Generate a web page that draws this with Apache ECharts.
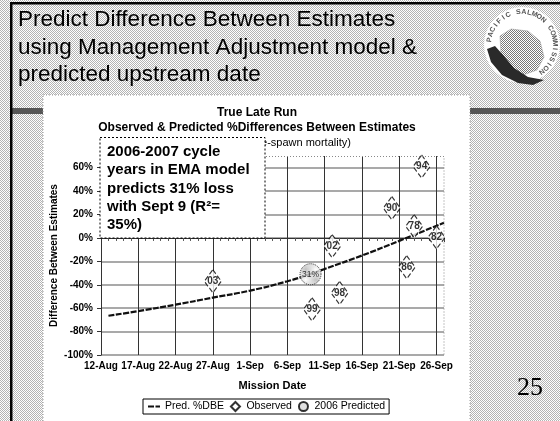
<!DOCTYPE html>
<html>
<head>
<meta charset="utf-8">
<script src="https://cdn.jsdelivr.net/npm/echarts@6/dist/echarts.min.js"></script>
<style>
  html, body { margin: 0; padding: 0; background: #fff; }
  #main { width: 560px; height: 421px; }
</style>
</head>
<body>
<div id="main"></div>
<script>
// x axis: days counted from 12-Aug, one label every 5 days
var xTickLabels = ["12-Aug", "17-Aug", "22-Aug", "27-Aug", "1-Sep", "6-Sep", "11-Sep", "16-Sep", "21-Sep", "26-Sep"];

// observed points (year code, day, %DBE)
var obsYears = ["03", "99", "02", "98", "90", "86", "78", "94", "82"];
var obsDay = [15, 28.3, 31, 32, 39, 41, 42, 43, 45];
var obsDbe = [-37, -61, -7, -47, 25.5, -25, 10, 61, 0.5];

// 2006 predicted point
var predLabels = ["31%"];
var predDay = [28.1];
var predDbe = [-31];

// fitted curve
var trendDay = [1, 5, 10, 15, 20, 25, 28, 30, 35, 40, 46];
var trendDbe = [-66.5, -62.5, -57, -51, -45, -37, -31, -26.5, -15, -2.5, 13];

var FONT = '"Liberation Sans", Arial, sans-serif';

// stipple pattern for the slide background
var pat = document.createElement("canvas");
pat.width = 2; pat.height = 2;
var pc = pat.getContext("2d");
pc.fillStyle = "#fff"; pc.fillRect(0, 0, 2, 2);
pc.fillStyle = "#b4b4b4"; pc.fillRect(0, 0, 1, 1); pc.fillRect(1, 1, 1, 1);

// darker pattern for the map in the logo
var pat2 = document.createElement("canvas");
pat2.width = 2; pat2.height = 2;
var pc2 = pat2.getContext("2d");
pc2.fillStyle = "#fff"; pc2.fillRect(0, 0, 2, 2);
pc2.fillStyle = "#777"; pc2.fillRect(0, 0, 1, 1); pc2.fillRect(1, 1, 1, 1);

// logo ring lettering
var logoText = "PACIFIC SALMON COMMISSION";
var logoEls = [
  {type: "circle", shape: {cx: 522, cy: 45, r: 38}, style: {fill: "#fff", stroke: null}},
  {type: "polygon", shape: {points: [[500, 36], [511, 29], [528, 31], [540, 41], [544, 57], [537, 70], [523, 75], [509, 68], [501, 54]]},
    style: {fill: {image: pat2, repeat: "repeat"}, stroke: "#999", lineWidth: 0.5}},
  {type: "polygon", shape: {points: [[487, 49], [495, 46], [503, 55], [514, 68], [528, 77], [544, 80], [533, 85], [518, 83], [502, 75], [491, 62]]},
    style: {fill: "#2a2a2a"}}
];
for (var k = 0; k < logoText.length; k++) {
  var ang = Math.PI * (1.05 + k * 1.3 / logoText.length);
  logoEls.push({
    type: "text",
    x: 522 + 33 * Math.cos(ang), y: 45 + 33 * Math.sin(ang),
    rotation: -(ang + Math.PI / 2),
    style: {text: logoText[k], font: "bold 7px " + FONT, fill: "#555", align: "center", verticalAlign: "middle"}
  });
}

var myChart = echarts.init(document.getElementById("main"));

var option = {
  backgroundColor: {image: pat, repeat: "repeat"},
  animation: false,
  grid: {left: 101, top: 156, right: 116, bottom: 66, containLabel: false},
  legend: {
    left: 143, top: 399,
    padding: [2, 4],
    itemGap: 6,
    itemWidth: 12,
    itemHeight: 9,
    symbolKeepAspect: true,
    borderColor: "#000",
    borderWidth: 1,
    textStyle: {fontFamily: FONT, fontSize: 10.5, color: "#000"},
    data: [
      {name: "Pred. %DBE", itemStyle: {opacity: 0}},
      {name: "Observed", icon: "path://M5,0L10,5L5,10L0,5Z"},
      {name: "2006 Predicted", icon: "circle"}
    ]
  },
  xAxis: {
    type: "value",
    min: 0,
    max: 46,
    interval: 5,
    name: "Mission Date",
    nameLocation: "middle",
    nameGap: 25,
    nameMoveOverlap: false,
    nameTextStyle: {fontFamily: FONT, fontSize: 11, fontWeight: "bold", color: "#000"},
    axisLine: {lineStyle: {color: "#333", width: 1}},
    axisTick: {show: true, length: 4, lineStyle: {color: "#333"}},
    minorTick: {show: true, splitNumber: 5, length: 3, lineStyle: {color: "#555"}},
    axisLabel: {
      margin: 6,
      fontFamily: FONT, fontSize: 10, fontWeight: "bold", color: "#000",
      showMaxLabel: false,
      hideOverlap: false,
      formatter: function (v) {
        return v % 5 === 0 ? xTickLabels[v / 5] : "";
      }
    },
    splitLine: {show: true, showMaxLine: false, lineStyle: {color: "#333", width: 1}}
  },
  yAxis: {
    type: "value",
    min: -100,
    max: 70,
    interval: 20,
    name: "Difference Between Estimates",
    nameLocation: "middle",
    nameGap: 42,
    nameMoveOverlap: false,
    nameTextStyle: {fontFamily: FONT, fontSize: 10, fontWeight: "bold", color: "#000"},
    axisLine: {show: true, lineStyle: {color: "#333", width: 1}},
    axisTick: {show: true, length: 4, lineStyle: {color: "#333"}},
    axisLabel: {
      margin: 8,
      fontFamily: FONT, fontSize: 10, fontWeight: "bold", color: "#000",
      showMaxLabel: false,
      formatter: function (v) {
        return v === 70 ? "" : v + "%";
      }
    },
    splitLine: {show: true, showMaxLine: false, lineStyle: {color: "#8c8c8c", width: 1.5}}
  },
  series: [
    {
      name: "Pred. %DBE",
      type: "line",
      smooth: true,
      symbol: "none",
      showSymbol: false,
      z: 2,
      lineStyle: {color: "#111", width: 2.2, type: [6, 1.5]},
      itemStyle: {color: "#111"},
      data: trendDay.map(function (d, i) { return [d, trendDbe[i]]; })
    },
    {
      name: "Observed",
      type: "scatter",
      symbol: "diamond",
      symbolSize: [17, 23],
      z: 4,
      itemStyle: {color: "#fff", borderColor: "#000", borderWidth: 1.2, borderType: "dashed"},
      label: {
        show: true, position: "inside",
        fontFamily: FONT, fontSize: 10, fontWeight: "bold", color: "#000",
        formatter: function (p) { return obsYears[p.dataIndex]; }
      },
      data: obsDay.map(function (d, i) { return [d, obsDbe[i]]; })
    },
    {
      name: "2006 Predicted",
      type: "scatter",
      symbol: "circle",
      symbolSize: 21,
      z: 4,
      itemStyle: {color: {image: pat, repeat: "repeat"}, borderColor: "#000", borderWidth: 1, borderType: "dotted"},
      label: {
        show: true, position: "inside",
        fontFamily: FONT, fontSize: 8.5, color: "#000",
        formatter: function (p) { return predLabels[p.dataIndex]; }
      },
      data: predDay.map(function (d, i) { return [d, predDbe[i]]; })
    }
  ],
  graphic: [
    // white chart panel and the dark rule behind it
    {type: "rect", z: -10, shape: {x: 12, y: 108, width: 31, height: 6}, style: {fill: "#555"}},
    {type: "rect", z: -10, shape: {x: 470, y: 108, width: 90, height: 6}, style: {fill: "#555"}},
    {type: "rect", z: -9, shape: {x: 43, y: 95, width: 427, height: 330}, style: {fill: "#fff", stroke: "#999", lineWidth: 1, lineDash: [1, 2]}},
    // slide frame
    {type: "rect", z: 50, shape: {x: 10, y: 2, width: 2.5, height: 419}, style: {fill: "#000"}},
    {type: "rect", z: 50, shape: {x: 10, y: 2, width: 550, height: 2.5}, style: {fill: "#000"}},
    // slide title
    {type: "text", z: 50, style: {x: 18, y: 20, text: "Predict Difference Between Estimates", font: "22.5px " + FONT, fill: "#000", verticalAlign: "middle"}},
    {type: "text", z: 50, style: {x: 18, y: 47.5, text: "using Management Adjustment model &", font: "22.5px " + FONT, fill: "#000", verticalAlign: "middle"}},
    {type: "text", z: 50, style: {x: 18, y: 75, text: "predicted upstream date", font: "22.5px " + FONT, fill: "#000", verticalAlign: "middle"}},
    // logo
    {type: "group", z: 50, children: logoEls},
    // chart titles
    {type: "text", z: 5, style: {x: 257, y: 113, text: "True Late Run", font: "bold 12px " + FONT, fill: "#000", align: "center", verticalAlign: "middle"}},
    {type: "text", z: 5, style: {x: 257, y: 127.7, text: "Observed & Predicted %Differences Between Estimates", font: "bold 12px " + FONT, fill: "#000", align: "center", verticalAlign: "middle"}},
    {type: "text", z: 5, style: {x: 261, y: 143, text: "(incl. en route & pre-spawn mortality)", font: "11px " + FONT, fill: "#000", align: "center", verticalAlign: "middle"}},
    // plot border (dotted top and right)
    {type: "polyline", z: 5, shape: {points: [[101, 156.5], [444, 156.5], [444, 355]]}, style: {stroke: "#888", lineWidth: 1, lineDash: [1, 2], fill: null}},
    // annotation box
    {type: "rect", z: 60, shape: {x: 100, y: 137.5, width: 165, height: 100.5}, style: {fill: "#fff", stroke: "#000", lineWidth: 1, lineDash: [2, 2]}},
    {type: "text", z: 61, style: {x: 107, y: 152, text: "2006-2007 cycle", font: "bold 15px " + FONT, fill: "#000", verticalAlign: "middle"}},
    {type: "text", z: 61, style: {x: 107, y: 170.2, text: "years in EMA model", font: "bold 15px " + FONT, fill: "#000", verticalAlign: "middle"}},
    {type: "text", z: 61, style: {x: 107, y: 188.4, text: "predicts 31% loss", font: "bold 15px " + FONT, fill: "#000", verticalAlign: "middle"}},
    {type: "text", z: 61, style: {x: 107, y: 206.6, text: "with Sept 9 (R²=", font: "bold 15px " + FONT, fill: "#000", verticalAlign: "middle"}},
    {type: "text", z: 61, style: {x: 107, y: 224.8, text: "35%)", font: "bold 15px " + FONT, fill: "#000", verticalAlign: "middle"}},
    // slide number
    {type: "text", z: 50, style: {x: 530, y: 388, text: "25", font: '26px "Liberation Serif", "Times New Roman", serif', fill: "#000", align: "center", verticalAlign: "middle"}}
  ]
};

myChart.setOption(option);
window.addEventListener("resize", function () {
  myChart.resize();
});
</script>
</body>
</html>
